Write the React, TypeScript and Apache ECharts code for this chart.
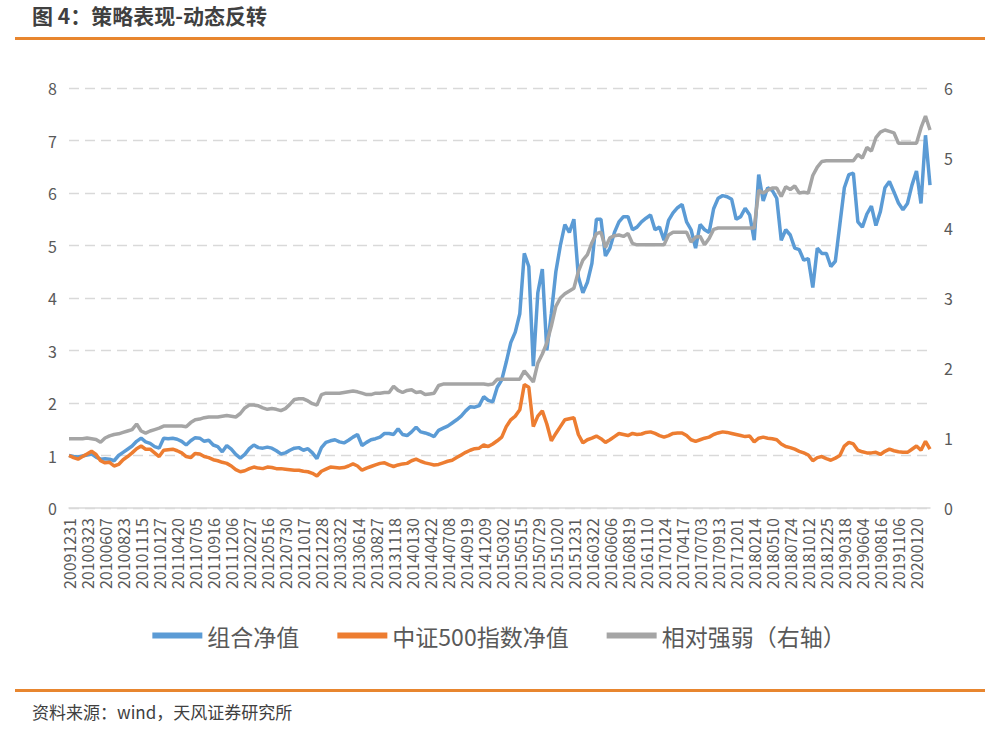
import React, { useEffect, useRef } from "react";
import * as echarts from "echarts";

const tickLabels = [
  "20091231", "20100323", "20100607", "20100823", "20101115", "20110127", "20110420", "20110705",
  "20110916", "20111206", "20120227", "20120516", "20120730", "20121017", "20121228", "20130322",
  "20130614", "20130827", "20131118", "20140130", "20140422", "20140708", "20140919", "20141209",
  "20150302", "20150515", "20150729", "20151020", "20151231", "20160322", "20160606", "20160819",
  "20161110", "20170124", "20170417", "20170703", "20170913", "20171201", "20180214", "20180510",
  "20180724", "20181012", "20181225", "20190318", "20190604", "20190816", "20191106", "20200120",
];

// 4 sampled points per labelled interval
const SUB = 4;

const portfolio = [
  1.00, 0.98, 0.97, 0.99, 1.01, 1.03, 0.97, 0.93, 0.94, 0.93,
  0.90, 1.00, 1.06, 1.12, 1.18, 1.27, 1.33, 1.26, 1.23, 1.17,
  1.14, 1.33, 1.32, 1.33, 1.31, 1.27, 1.20, 1.28, 1.34, 1.33,
  1.27, 1.29, 1.20, 1.17, 1.07, 1.19, 1.12, 1.02, 0.95, 1.02,
  1.13, 1.20, 1.15, 1.14, 1.16, 1.14, 1.09, 1.03, 1.05, 1.10,
  1.14, 1.15, 1.10, 1.13, 1.05, 0.94, 1.15, 1.25, 1.28, 1.30,
  1.26, 1.24, 1.29, 1.35, 1.40, 1.19, 1.25, 1.30, 1.32, 1.35,
  1.42, 1.42, 1.40, 1.51, 1.40, 1.38, 1.45, 1.54, 1.45, 1.43,
  1.40, 1.36, 1.48, 1.52, 1.56, 1.62, 1.68, 1.75, 1.85, 1.93,
  1.92, 1.95, 2.12, 2.05, 2.02, 2.30, 2.44, 2.78, 3.15, 3.35,
  3.70, 4.85, 4.60, 2.70, 4.10, 4.55, 3.00, 3.70, 4.50, 5.00,
  5.40, 5.25, 5.50, 4.40, 4.10, 4.30, 4.66, 5.50, 5.50, 4.80,
  4.95, 5.25, 5.45, 5.55, 5.55, 5.30, 5.35, 5.45, 5.52, 5.58,
  5.30, 5.35, 5.10, 5.48, 5.62, 5.72, 5.78, 5.45, 5.30, 4.95,
  5.40, 5.30, 5.25, 5.70, 5.90, 5.95, 5.93, 5.88, 5.50, 5.55,
  5.71, 5.58, 5.10, 6.35, 5.85, 6.10, 6.05, 5.90, 5.10, 5.30,
  5.20, 4.95, 4.92, 4.72, 4.75, 4.20, 4.95, 4.85, 4.85, 4.60,
  4.70, 5.40, 6.10, 6.35, 6.38, 5.45, 5.35, 5.60, 5.75, 5.38,
  5.65, 6.10, 6.22, 6.02, 5.81, 5.68, 5.80, 6.15, 6.42, 5.80,
  7.10, 6.15,
];

const csi500 = [
  1.00, 0.96, 0.93, 0.98, 1.03, 1.08, 1.02, 0.90, 0.86, 0.87,
  0.80, 0.83, 0.92, 0.98, 1.05, 1.13, 1.18, 1.12, 1.12, 1.05,
  0.98, 1.10, 1.11, 1.12, 1.09, 1.05, 0.98, 0.96, 1.04, 1.03,
  0.98, 0.96, 0.92, 0.90, 0.87, 0.85, 0.80, 0.73, 0.69, 0.71,
  0.75, 0.78, 0.76, 0.75, 0.78, 0.77, 0.75, 0.75, 0.74, 0.73,
  0.72, 0.72, 0.70, 0.69, 0.66, 0.61, 0.70, 0.74, 0.78, 0.77,
  0.76, 0.77, 0.80, 0.84, 0.80, 0.72, 0.76, 0.79, 0.82, 0.85,
  0.86, 0.82, 0.79, 0.82, 0.84, 0.85, 0.90, 0.93, 0.89, 0.86,
  0.84, 0.82, 0.83, 0.86, 0.89, 0.91, 0.96, 1.01, 1.06, 1.10,
  1.13, 1.14, 1.20, 1.17, 1.22, 1.28, 1.35, 1.55, 1.68, 1.75,
  1.87, 2.35, 2.30, 1.55, 1.75, 1.85, 1.60, 1.28, 1.42, 1.55,
  1.68, 1.70, 1.72, 1.40, 1.24, 1.30, 1.33, 1.37, 1.32, 1.25,
  1.30, 1.36, 1.42, 1.40, 1.38, 1.42, 1.40, 1.41, 1.44, 1.45,
  1.42, 1.38, 1.35, 1.38, 1.42, 1.43, 1.43, 1.38, 1.30, 1.27,
  1.30, 1.33, 1.35, 1.40, 1.43, 1.45, 1.44, 1.42, 1.40, 1.38,
  1.36, 1.37, 1.26, 1.33, 1.35, 1.33, 1.32, 1.30, 1.22, 1.17,
  1.15, 1.12, 1.08, 1.05, 1.01, 0.90, 0.96, 0.98, 0.94, 0.91,
  0.95, 1.00, 1.18, 1.25, 1.22, 1.10, 1.07, 1.05, 1.05, 1.06,
  1.02, 1.08, 1.12, 1.09, 1.07, 1.06, 1.06, 1.12, 1.18, 1.10,
  1.27, 1.12,
];

const relative = [
  0.99, 0.99, 0.99, 0.99, 1.00, 0.99, 0.98, 0.94, 1.00, 1.03,
  1.05, 1.06, 1.08, 1.10, 1.12, 1.20, 1.10, 1.07, 1.10, 1.12,
  1.14, 1.17, 1.17, 1.17, 1.17, 1.17, 1.16, 1.22, 1.26, 1.27,
  1.29, 1.30, 1.30, 1.30, 1.31, 1.32, 1.31, 1.30, 1.35, 1.43,
  1.47, 1.47, 1.46, 1.43, 1.41, 1.42, 1.41, 1.39, 1.42, 1.48,
  1.55, 1.56, 1.56, 1.53, 1.49, 1.47, 1.62, 1.64, 1.64, 1.64,
  1.64, 1.65, 1.66, 1.67, 1.66, 1.64, 1.62, 1.62, 1.64, 1.64,
  1.65, 1.65, 1.74, 1.68, 1.65, 1.68, 1.69, 1.65, 1.66, 1.62,
  1.63, 1.64, 1.75, 1.77, 1.77, 1.77, 1.77, 1.77, 1.77, 1.77,
  1.77, 1.77, 1.77, 1.76, 1.77, 1.84, 1.84, 1.84, 1.84, 1.84,
  1.84, 1.96, 1.88, 1.80, 2.07, 2.20, 2.36, 2.60, 2.88, 3.00,
  3.06, 3.10, 3.14, 3.38, 3.54, 3.62, 3.79, 3.92, 3.94, 3.72,
  3.86, 3.89, 3.90, 3.88, 3.92, 3.78, 3.76, 3.76, 3.76, 3.76,
  3.76, 3.76, 3.76, 3.90, 3.94, 3.94, 3.94, 3.94, 3.80, 3.87,
  3.88, 3.76, 3.85, 3.98, 4.00, 4.00, 4.00, 4.00, 4.00, 4.00,
  4.00, 4.00, 4.00, 4.54, 4.50, 4.54, 4.57, 4.57, 4.45, 4.59,
  4.55, 4.60, 4.50, 4.51, 4.50, 4.75, 4.87, 4.95, 4.96, 4.96,
  4.96, 4.96, 4.96, 4.96, 4.96, 5.05, 5.00, 5.15, 5.10, 5.29,
  5.37, 5.40, 5.38, 5.36, 5.21, 5.21, 5.21, 5.21, 5.21, 5.43,
  5.60, 5.40,
];

const seriesNames = ["组合净值", "中证500指数净值", "相对强弱（右轴）"];
const seriesColors = ["#5B9BD5", "#ED7D31", "#A5A5A5"];

const titleText = "图 4：策略表现-动态反转";
const sourceText = "资料来源：wind，天风证券研究所";

const categories: string[] = [];
tickLabels.forEach((d) => {
  categories.push(d);
  for (let j = 1; j < SUB; j++) categories.push(`${d}_${j}`);
});

const FONT = '"Noto Sans CJK SC", "Noto Sans", sans-serif';

export default function App() {
  const ref = useRef<HTMLDivElement>(null);

  useEffect(() => {
    if (!ref.current) return;
    const chart = echarts.init(ref.current, undefined, { renderer: "svg" });
    chart.setOption({
      animation: false,
      backgroundColor: "#ffffff",
      textStyle: { fontFamily: FONT },
      graphic: [
        {
          type: "text",
          left: 32,
          top: 4,
          style: { text: titleText, font: `bold 21px ${FONT}`, fill: "#404040" },
        },
        { type: "rect", shape: { x: 15, y: 37, width: 970, height: 3 }, style: { fill: "#E8862F" } },
        { type: "rect", shape: { x: 15, y: 689, width: 970, height: 3 }, style: { fill: "#E8862F" } },
        {
          type: "text",
          left: 32,
          top: 703,
          style: { text: sourceText, font: `17px ${FONT}`, fill: "#404040" },
        },
      ],
      legend: {
        data: seriesNames,
        left: "center",
        top: 619,
        icon: "rect",
        itemWidth: 50,
        itemHeight: 6,
        itemGap: 38,
        textStyle: { fontSize: 23, color: "#595959", fontFamily: FONT },
      },
      grid: { left: 69, right: 68, top: 88, bottom: 221, containLabel: false },
      xAxis: {
        type: "category",
        data: categories,
        boundaryGap: false,
        axisLine: { lineStyle: { color: "#D9D9D9", width: 1.5 } },
        axisTick: { show: false },
        axisLabel: {
          interval: SUB - 1,
          rotate: 90,
          fontSize: 16,
          color: "#595959",
          margin: 10,
          fontFamily: FONT,
        },
        splitLine: { show: false },
      },
      yAxis: [
        {
          type: "value",
          min: 0,
          max: 8,
          interval: 1,
          axisLine: { show: false },
          axisTick: { show: false },
          axisLabel: { fontSize: 16, color: "#595959", margin: 12, fontFamily: FONT },
          splitLine: { lineStyle: { color: "#D9D9D9", type: [10, 6], width: 1.3 } },
        },
        {
          type: "value",
          position: "right",
          min: 0,
          max: 6,
          interval: 1,
          axisLine: { show: false },
          axisTick: { show: false },
          axisLabel: { fontSize: 16, color: "#595959", margin: 14, fontFamily: FONT },
          splitLine: { show: false },
        },
      ],
      series: [
        {
          name: seriesNames[0],
          type: "line",
          data: portfolio,
          yAxisIndex: 0,
          showSymbol: false,
          color: seriesColors[0],
          lineStyle: { width: 3.5, color: seriesColors[0] },
        },
        {
          name: seriesNames[1],
          type: "line",
          data: csi500,
          yAxisIndex: 0,
          showSymbol: false,
          color: seriesColors[1],
          lineStyle: { width: 3.5, color: seriesColors[1] },
        },
        {
          name: seriesNames[2],
          type: "line",
          data: relative,
          yAxisIndex: 1,
          showSymbol: false,
          color: seriesColors[2],
          lineStyle: { width: 3.5, color: seriesColors[2] },
        },
      ],
    });
    return () => chart.dispose();
  }, []);

  return (
    <div
      ref={ref}
      style={{ position: "absolute", left: 0, top: 0, width: 998, height: 729 }}
    />
  );
}
